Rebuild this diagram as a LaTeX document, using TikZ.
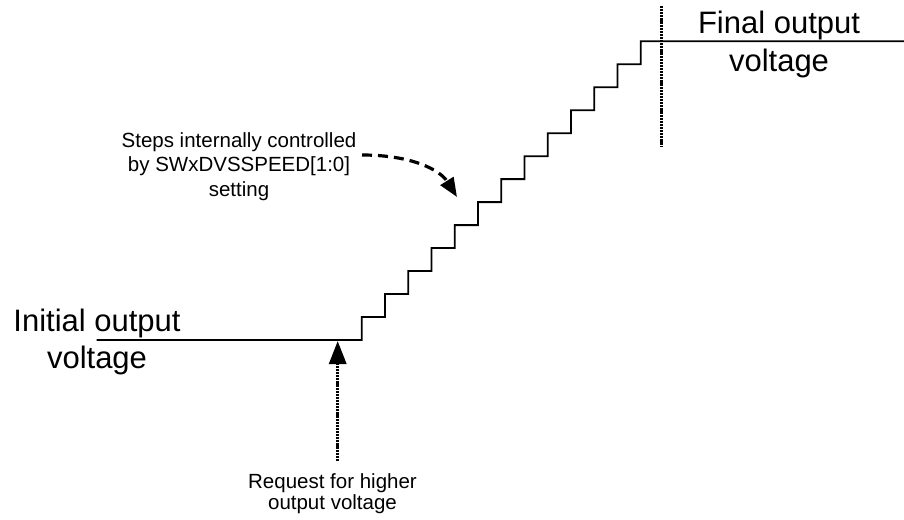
\documentclass[tikz,border=0pt]{standalone}
\usepackage{fontspec}
\setmainfont{Liberation Sans}
\usetikzlibrary{arrows.meta}
\begin{document}
\begin{tikzpicture}[x=1pt,y=-1pt,
  bigtext/.style={font=\fontsize{31}{37.5}\selectfont, align=center, inner sep=0pt, anchor=base},
  smalltext/.style={font=\fontsize{20.5}{24.5}\selectfont, align=center, inner sep=0pt, anchor=base},
  reqtext/.style={font=\fontsize{20.5}{21}\selectfont, align=center, inner sep=0pt, anchor=base},
  stair/.style={line width=1.8pt, line join=miter},
  dotline/.style={line width=3.2pt, dash pattern=on 2.2pt off 0.9pt},
  dashcurve/.style={line width=3.2pt, dash pattern=on 10pt off 6pt, -{Triangle[width=15pt,length=19pt]}},
  reqarrow/.style={line width=3.2pt, dash pattern=on 2.2pt off 0.9pt, -{Triangle[width=17pt,length=23pt]}}]
\useasboundingbox (0,0) rectangle (904,519);
% texts
\node[bigtext] (init) at (97,368.5) {Initial output\\voltage};
\node[bigtext] (final) at (779,71) {Final output\\voltage};
\node[smalltext] (steps) at (239,196) {Steps internally controlled\\by SWxDVSSPEED[1:0]\\setting};
\node[reqtext] (req) at (332.5,509) {Request for higher\\output voltage};
% staircase
\coordinate (s0) at (96.7,340);
\coordinate (r0) at (361.7,340);
\coordinate (send) at (904,41.3);
\draw[stair] (s0) -- (r0)
  \foreach \k in {1,...,12} { -- ++(0,-22.98) -- ++(23.25,0) }
  -- ++(0,-22.98) -- (send);
% final marker
\coordinate (mtop) at (661.7,6);
\coordinate (mbot) at (661.7,146.7);
\draw[dotline] (mtop) -- (mbot);
% request arrow
\coordinate (rq0) at (337.7,461);
\coordinate (rq1) at (337.7,341);
\draw[reqarrow] (rq0) -- (rq1);
% steps arrow
\coordinate (sa0) at (362,155);
\coordinate (sa1) at (457,197);
\draw[dashcurve] (sa0) .. controls (412,155) and (440,170) .. (sa1);
\end{tikzpicture}
\end{document}
